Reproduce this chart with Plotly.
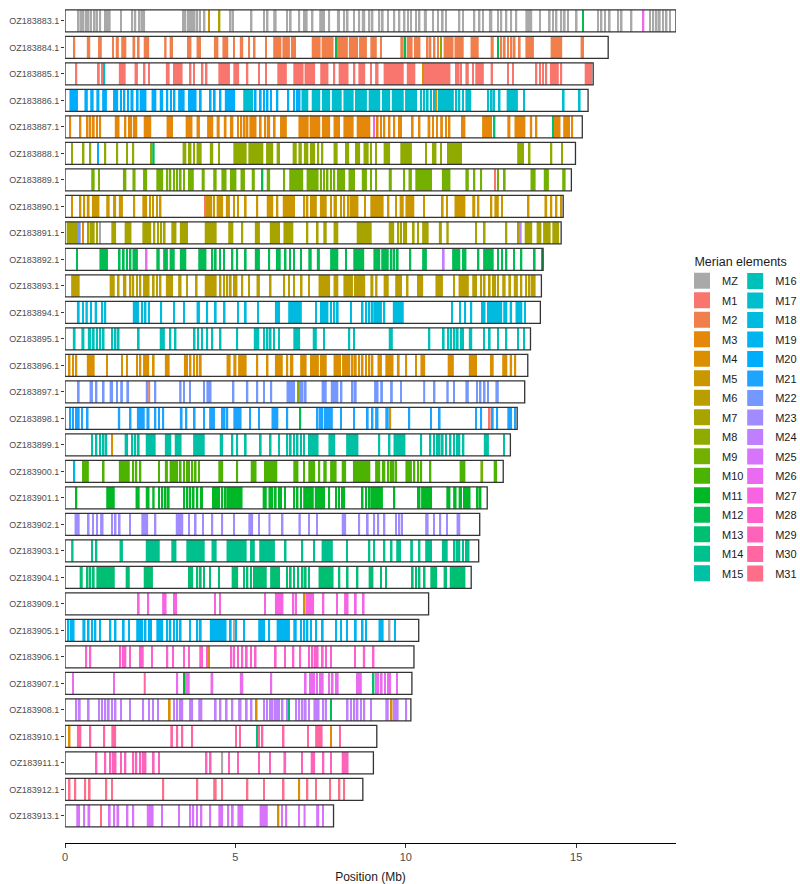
import math
import plotly.graph_objects as go

# ---------------- data ----------------
CHROMS = ["OZ183883.1", "OZ183884.1", "OZ183885.1", "OZ183886.1", "OZ183887.1",
          "OZ183888.1", "OZ183889.1", "OZ183890.1", "OZ183891.1", "OZ183892.1",
          "OZ183893.1", "OZ183894.1", "OZ183895.1", "OZ183896.1", "OZ183897.1",
          "OZ183898.1", "OZ183899.1", "OZ183900.1", "OZ183901.1", "OZ183902.1",
          "OZ183903.1", "OZ183904.1", "OZ183909.1", "OZ183905.1", "OZ183906.1",
          "OZ183907.1", "OZ183908.1", "OZ183910.1", "OZ183911.1", "OZ183912.1",
          "OZ183913.1"]
LENGTHS = [17.93, 15.94, 15.50, 15.35, 15.18, 14.98, 14.86, 14.62, 14.56, 14.03,
           13.98, 13.95, 13.66, 13.58, 13.49, 13.27, 13.07, 12.86, 12.39, 12.17,
           12.14, 11.92, 10.67, 10.38, 10.24, 10.18, 10.15, 9.15, 9.05, 8.74, 7.88]
MAIN = ["MZ", "M2", "M1", "M20", "M3", "M8", "M9", "M5", "M7", "M12",
        "M6", "M18", "M16", "M4", "M22", "M21", "M15", "M10", "M11", "M23",
        "M14", "M13", "M27", "M19", "M28", "M26", "M24", "M30", "M29", "M31", "M25"]
ELEMENTS = ["MZ"] + ["M%d" % i for i in range(1, 32)]

# segment notation: x -> thin line of main element; (a, b) -> block;
# (x, "Mk") -> thin line of other element; (a, b, "Mk") -> block of other element
SEG_883 = [0.38, 0.45, 0.52, 0.60, 0.67, 0.74, 0.85, 0.92, (1.01, 1.06), 1.16, 1.23, (1.29, 1.34),
           1.62, 1.95, 2.04, 2.17, 2.24, 2.30, 3.45, 3.51, 3.58, 3.64, 3.71, 3.78, 3.86, 3.94, 4.07,
           (4.20, "M5"), (4.51, "M7"), 4.84, 4.91, 5.45, 5.82, 5.92, (6.11, 6.21), 6.49, 6.60, 6.85,
           6.99, 7.07, 7.24, (7.46, 7.63), 7.73, (7.98, 8.07), 8.17, 8.27, 8.46, 8.61, (8.71, 8.81),
           8.91, 9.00, 9.20, (9.30, 9.35), 9.45, 9.64, 9.79, 9.94, 10.04, 10.13, 10.28, 10.38,
           (10.53, 10.62), 10.77, 10.92, 11.06, 11.16, 11.55, 11.65, 11.99, 12.14, 12.24,
           (12.44, 12.54), 12.68, 12.78, 12.93, 13.07, 13.22, (13.51, 13.71), 13.91, 14.20, 14.30,
           14.40, 14.54, 14.64, 14.74, 14.99, (15.18, "M12"), 15.62, 15.72, 15.82, 15.96, 16.21,
           16.31, 16.60, (16.95, "M26"), 17.14, 17.24, 17.34, 17.43, 17.53, 17.63, 17.73]
SEG_884 = [0.25, (0.64, 0.74), (0.97, 1.08), 1.38, (1.49, 1.58), (1.65, 1.80), (1.98, 2.06),
           (2.14, 2.19), (2.31, 2.47), (2.91, 2.98), (3.07, 3.17), (3.58, 3.71), (3.86, 3.99),
           (4.37, 4.50), (4.62, 4.79), 4.94, (5.13, 5.23), 5.38, 5.54, 5.87, (6.11, 6.35),
           (6.38, 6.60), (6.63, 6.78), (7.24, 7.50), (7.53, 7.88), (7.93, "M12"), (7.98, 8.30),
           (8.33, 8.60), (8.63, 8.86), (8.96, 9.15), 9.25, (9.84, 9.94), (9.96, "M12"),
           (10.03, 10.20), (10.24, 10.43), 10.62, 10.70, 10.82, 10.92, (11.01, "M8"),
           (11.11, 11.40), (11.43, 11.70), (11.90, 12.14), (12.49, 12.58), (12.68, "M12"), 12.78,
           12.88, 12.98, 13.08, 13.17, 13.32, (13.51, 13.76), (14.25, 14.59), (15.13, 15.23)]
SEG_885 = [0.31, (0.94, 1.02), 1.08, (1.13, "M17"), (1.58, 1.78), (2.04, 2.14), 2.31, 2.44,
           (2.96, 3.07), (3.17, 3.45), 3.66, (3.76, 3.81), 4.01, 4.13, (4.50, 4.84), (4.94, 5.11),
           (5.31, 5.38), 5.67, 5.87, (6.23, 6.51), (6.70, 7.00), (7.03, 7.34), (7.49, 7.73), 7.88,
           (8.03, 8.32), 8.47, (8.61, 8.81), 8.96, (9.10, 9.20), (9.35, 9.94), (10.03, 10.28),
           (10.48, "M4"), (10.52, 11.31), 11.46, 11.53, 11.60, (11.75, 11.85), 11.95,
           (12.04, 12.29), (12.49, 12.56), 12.98, 13.12, 13.81, 13.91, 14.00, 14.10,
           (14.23, 14.49), 14.54, (15.25, 15.47)]
SEG_886 = [(0.13, 0.38), (0.57, 0.67), (0.74, 0.84), (0.92, 1.01), (1.09, 1.23), (1.41, 1.56),
           1.62, 1.72, 1.82, (1.92, 2.01), 2.11, (2.19, 2.39), (2.54, 2.68), (2.78, 2.88), 2.98,
           3.09, 3.19, (3.32, 3.51), (3.61, 3.86), (3.96, 4.01), 4.25, 4.37, 4.54, (4.69, 4.99),
           (5.23, 5.52, "M17"), (5.57, 5.62), 5.72, 5.82, 5.92, 6.02, 6.21, 6.53, 6.70, 6.78, 6.86,
           (6.94, 7.14, "M17"), (7.24, 7.49, "M17"), (7.54, 7.78, "M17"), (7.83, 8.12, "M17"),
           (8.17, 8.47, "M17"), (8.51, 8.86, "M17"), (8.91, 9.25, "M17"), (9.30, 9.54, "M17"),
           (9.59, 9.94, "M17"), (9.98, 10.33, "M17"), (10.43, "M17"), (10.52, "M17"),
           (10.62, "M17"), (10.72, "M17"), (10.82, "M17"), (10.87, "M4"), (10.94, 11.41, "M17"),
           (11.46, "M17"), (11.55, "M17"), (11.65, "M17"), (11.75, 11.92, "M17"), (12.39, "M17"),
           (12.50, "M17"), (12.56, "M17"), (12.73, "M17"), (12.96, 13.29, "M17"), (13.45, "M17"),
           (14.61, "M17"), (15.08, "M17")]
SEG_887 = [0.13, 0.43, 0.64, 0.72, 0.82, 0.92, 1.01, (1.46, 1.60), 1.75, 1.85, 1.92, 2.00, 2.07,
           (2.31, 2.53), (2.98, 3.17), (3.54, 3.74), (3.86, 3.96), (4.17, 4.35), (4.45, 4.54),
           (4.66, 4.74), (4.84, 4.94), 5.05, 5.15, 5.25, 5.33, (5.41, 5.62), 5.72, 5.84,
           (5.92, 6.02), 6.13, (6.31, 6.51), (6.85, 7.15), (7.18, 7.49), (7.54, 7.78), (7.88, 8.07),
           (8.17, 8.47), (8.56, 8.96), (9.05, "M27"), 9.15, 9.25, 9.35, 9.50, 9.64, 9.79,
           (9.84, 9.89), (10.18, 10.23), 10.38, (10.64, 10.72), (10.77, 10.82), 10.89,
           (11.01, 11.09), 11.16, 11.26, (11.62, 11.75), (12.24, 12.53), (12.58, "M13"),
           (12.98, 13.07), (13.19, 13.51), (13.64, 13.71), (13.81, 13.86), (14.30, "M13"),
           (14.35, 14.54), (14.62, 14.82), 14.86]
SEG_888 = [0.18, 0.52, 0.72, (0.94, "M20"), 1.16, 1.51, 1.80, 1.98, (2.51, 2.56),
           (2.56, 2.63, "M12"), (3.45, 3.56), (3.61, 3.71), 3.76, (3.86, 4.01), (4.25, 4.35), 4.50,
           (4.94, 5.33), (5.38, 5.82), (5.90, 6.11), (6.21, 6.31), (6.68, 6.80), (6.85, 6.95),
           (7.01, 7.14), (7.19, 7.34), 7.41, 7.53, (7.88, 8.00), 8.22, 8.29, (8.51, 8.66),
           (8.76, 8.91), 8.96, 9.10, (9.35, 9.54), (9.84, 10.18), 10.57, (10.77, 10.90), 11.01,
           (11.21, 11.65), (13.27, 13.47), 13.61, 14.25, 14.56]
SEG_889 = [(0.77, 0.87), 0.97, (1.70, 1.80), (1.98, 2.07), (2.29, 2.41), (2.68, 2.88), 2.98, 3.07,
           3.17, 3.27, 3.37, 3.47, (3.61, 3.78), (4.01, 4.10), (4.35, 4.45), (4.59, 4.74),
           (4.84, 5.03), (5.15, 5.28), (5.48, 5.57), (5.77, "M12"), (5.92, 6.02), 6.41,
           (6.58, 6.99), (7.09, 7.44), 7.49, 7.58, 7.68, 7.78, 7.88, (7.98, 8.22), (8.32, 8.51),
           (8.71, 8.86), 8.96, 9.10, (9.50, 9.59), (9.94, 9.98), (10.08, 10.18), (10.28, 10.77),
           (11.06, 11.31), (11.75, 11.85), 11.99, 12.19, (12.60, "M1"), 12.68, 12.88,
           (13.66, 13.81), (14.05, 14.20), (14.59, 14.69)]
SEG_890 = [(0.18, "M4"), (0.41, 0.48), 0.54, (0.64, 0.72), (0.79, 1.01), (1.21, 1.31),
           (1.41, 1.50), (1.58, 1.70), 2.01, (2.27, 2.41), 2.47, 2.56, 2.68, 2.78, (4.10, "M1"),
           4.15, 4.20, 4.27, 4.35, (4.45, 4.64), (4.72, 4.84), 4.94, 5.05, 5.28, 5.62,
           (5.92, 6.11), 6.21, (6.39, 6.75), 7.00, 7.09, (7.19, 7.39), (7.48, 7.68), 7.78,
           (7.88, 7.98), 8.07, 8.17, 8.29, (8.35, 8.61), 8.78, (8.96, 9.35), 9.47, 9.69,
           (9.82, 9.94), (9.99, 10.25), 10.51, 11.06, 11.19, (11.43, 11.75), (11.95, 12.04), 12.11,
           12.49, (12.60, 12.73), 12.80, 13.58, (14.07, 14.15), 14.25, 14.40, 14.54]
SEG_891 = [(0.05, 0.38), (0.41, "M22"), (0.50, "M3"), 0.67, 0.75, 0.82, 0.92, (1.00, "MZ"),
           (1.36, 1.50), (1.75, 1.95), (2.27, 2.53), 2.60, 2.70, 2.80, 2.90, (3.12, 3.27),
           (3.37, 3.61), (4.10, 4.45), (4.79, 4.94), 5.18, (5.57, 5.72), (6.01, 6.31),
           (6.41, 6.70), 7.09, 7.39, (7.58, 7.68), (7.88, 8.02), (8.56, 9.00), (9.50, 9.66), 9.76,
           9.84, 9.92, 9.99, 10.21, 10.33, (10.48, 10.67), (10.97, 11.06), (11.19, 11.26), 12.04,
           12.29, 12.93, 13.27, (13.35, "M24"), (13.49, 13.71), (13.84, 13.98), (14.03, 14.25),
           (14.30, 14.50)]
SEG_892 = [0.33, (1.01, 1.26), 1.58, 1.70, 1.80, 1.90, (1.98, 2.14), (2.37, "M26"), (2.68, 2.78),
           (2.88, 3.02), (3.07, 3.22), (3.37, 3.56), (3.91, 4.15), 4.30, 4.40, 4.52, 4.64, 4.89,
           5.03, 5.28, (5.57, 5.72), 5.97, (6.19, 6.33), 6.45, 6.58, 6.70, 6.90, (7.14, 7.24),
           (7.39, 7.48), (7.78, 8.02), 8.22, (8.46, 8.78), (9.05, 9.25), (9.28, 9.50), 9.56, 9.64,
           9.74, 10.11, (10.48, 10.62), (11.09, "M24"), (11.36, 11.60), (11.65, 11.78), 12.11,
           (12.27, 12.58), 12.68, 12.80, 12.93, 13.15, 13.37, 13.76, 13.98]
SEG_893 = [(0.18, 0.43), (1.31, 1.46), 1.55, (1.70, 1.80), 1.90, 1.98, 2.09, 2.19, (2.29, 2.48),
           2.58, 2.68, 2.78, (2.96, 3.17), (3.32, 3.42), 3.56, 3.84, (4.10, 4.45), 4.54, 4.64,
           4.74, 4.84, 4.94, 5.01, 5.18, 5.38, (5.62, 5.72), 6.01, 6.41, 6.55, 6.70, 6.92, 7.14,
           (7.44, 7.78), (7.88, 8.02), (8.17, 8.45), (8.48, 8.81), (8.96, 9.05), (9.10, 9.17),
           (9.35, 9.50), (9.69, 9.89), (10.03, 10.08), (10.33, 10.51), (10.87, 11.09), 11.39,
           (11.55, 11.85), (11.95, 12.09), 12.19, 12.29, 12.44, 12.54, 12.60, 12.68,
           (12.83, 12.93), (13.01, 13.09), (13.17, 13.29), 13.37, 13.51, 13.61, 13.68, 13.76]
SEG_894 = [(0.35, 0.43), 0.50, (0.60, 0.67), 0.74, (0.87, 0.94), 1.06, (1.16, 1.21),
           (1.99, 2.17), 2.24, 2.34, 2.44, 2.80, 3.17, 3.47, (3.86, 3.96), 4.15, 4.40, 4.66, 5.05,
           5.28, 5.64, (6.16, 6.31), (6.55, 6.95), 7.34, (7.48, 7.73), 7.78, 7.88, 7.98, 8.37,
           8.71, 8.81, 8.91, 9.00, (9.05, 9.30), 9.35, (9.62, 9.94), 11.33, (11.58, 11.62), 11.72,
           11.90, 12.21, 12.29, 12.39, (12.44, 12.83), (12.86, 12.98), (13.05, 13.12),
           (13.22, 13.42), 13.47]
SEG_895 = [(0.23, 0.31), (0.48, 0.57), (0.67, 0.77), 0.82, 0.92, 1.01, 1.11, 1.36, 1.46, 1.55,
           2.14, (2.78, 2.93), 3.07, 3.22, 3.78, 3.88, 4.00, 4.15, 4.30, 4.54, 5.03, (5.54, 5.70),
           5.82, 5.92, 6.01, 6.11, 6.26, (6.70, 6.90), (7.27, 7.39), 7.58, 8.32, 8.46,
           (9.50, 9.62), 10.67, 11.09, 11.23, 11.31, 11.41, 11.50, 11.60, 11.65, (11.85, 11.95),
           12.27, 12.44, 12.68, 12.93, 13.27, 13.45]
SEG_896 = [0.11, 0.21, 0.31, (0.64, 0.87), 1.21, 1.65, 1.80, 2.09, 2.19, (2.29, 2.47), 2.58,
           (2.93, 3.07), (3.49, 3.61), 3.66, 3.76, 3.86, 3.96, (4.74, 4.86), (4.94, 5.03),
           (5.08, 5.33), 5.62, 5.92, (6.16, 6.39), 6.50, (6.60, 6.70), (6.90, 7.09), (7.19, 7.45),
           (7.48, 7.68), (7.88, 8.10), (8.13, 8.37), 8.42, 8.51, 8.61, 8.71, 8.81, 8.91, 9.00,
           (9.17, 9.30), (9.40, 9.64), (9.74, 9.82), 9.99, 10.28, (10.43, 10.57), (11.23, 11.41),
           (11.85, 12.09), (12.47, 12.58), (12.83, 12.98), (13.05, 13.12), 13.19]
SEG_897 = [0.38, (0.72, 0.82), 0.90, 1.11, (1.31, 1.41), 1.50, (1.62, 1.70), (1.80, 1.88),
           (2.37, 2.44), (2.44, 2.50, "M2"), 2.63, (3.35, 3.42), 3.47, 3.64, 4.05, (4.15, 4.30),
           4.92, (5.31, 5.38), 5.62, 5.82, 6.03, (6.50, 6.75), (6.82, "M8"), 6.88, 6.95, 7.04,
           (7.53, 7.68), (7.80, 8.02), 8.09, 8.42, 8.51, (9.07, 9.20), (9.25, 9.33), (9.54, 9.62),
           9.84, (10.51, 10.57), 10.82, (11.19, 11.26), 11.39, (11.75, 11.85), 12.07, 12.17, 12.29,
           12.39, (12.63, 12.73)]
SEG_898 = [0.13, 0.21, 0.31, 0.38, 0.48, 0.64, (1.55, 1.62), 1.90, (2.11, 2.34), (2.39, 2.48),
           2.63, 2.73, 2.86, (3.37, 3.45), 3.54, 3.78, 4.05, (4.23, 4.40), 4.59, 4.66, 4.74,
           (4.94, 5.18), 5.41, 5.67, (6.06, 6.26), 6.50, (6.88, "M12"), 7.39, 7.47, 7.53,
           (7.60, 7.86), 8.07, 8.46, 8.86, 9.00, (9.10, 9.20), (9.40, 9.50), (9.52, "M4"),
           (10.08, 10.13), 10.72, 10.97, 12.04, 12.19, (12.44, "M1"), 12.53, 12.66, (12.98, 13.12),
           13.19]
SEG_899 = [(0.77, 0.82), 0.90, 1.00, 1.11, 1.19, (1.36, "M4"), (1.75, 1.85), 1.95, 2.04, 2.14,
           (2.37, 2.66), (2.93, 3.12), (3.22, 3.42), (3.76, 4.10), (4.54, 4.64), 4.89, 5.03, 5.28,
           5.72, 6.01, 6.26, 6.50, 6.60, 6.70, 6.80, 6.90, 6.99, 7.14, (7.19, 7.44), (7.73, 7.93),
           (8.25, 8.61), 9.20, 9.50, (9.64, 9.99), 10.43, 10.70, 10.80, 10.90, 10.97, 11.06, 11.16,
           11.29, 11.39, 11.49, 11.55, (11.65, 11.72), (12.29, 12.44), 12.86]
SEG_900 = [(0.25, "M19"), (0.50, 0.70), 1.11, (1.58, 1.90), 1.98, 2.07, 2.19, 2.73, (2.93, 3.02),
           (3.07, 3.32), 3.37, 3.47, 3.56, 3.61, 3.71, 3.81, 3.91, (4.50, 4.64), 5.03, (5.45, 5.62),
           (5.84, 6.23), (6.70, 6.85), 6.99, (7.14, 7.34), 7.44, (7.58, 7.68), (7.78, 7.97),
           (8.12, 8.25), (8.45, 8.96), (9.10, 9.25), (9.30, 9.40), 9.47, 9.54, 9.62, 9.69,
           (9.99, 10.18), 10.23, 10.33, 10.43, 10.70, (11.58, 11.75), (12.19, 12.27, "M9"),
           (12.58, 12.68)]
SEG_901 = [0.31, (1.21, 1.46), (2.07, 2.19), (2.37, 2.48), (2.56, 2.63), 2.73, 2.83, 2.93, 3.02,
           3.47, 3.57, 3.65, 3.75, 3.86, (3.96, 4.05), 4.33, 4.40, 4.45, 4.50, 4.59, 4.69,
           (4.74, 5.21), (5.80, 5.92), (5.97, 6.11), 6.16, 6.26, 6.31, 6.43, 6.70, 6.80, 6.90,
           (6.99, 7.30), (7.33, 7.63), 7.73, 7.93, 8.02, 8.12, 8.17, 8.71, 8.81, 8.91,
           (8.96, 9.33), (9.64, 9.69), (10.33, 10.43), (10.45, 10.77), (11.19, 11.31),
           (11.39, 11.49), (11.55, 11.65), (11.68, 11.90), 12.09, 12.17]
SEG_902 = [(0.28, 0.43), (0.67, 0.72), 0.80, 0.92, (1.03, 1.13), 1.36, 1.46, 1.58, 1.88,
           (2.24, 2.44), 2.63, (3.25, 3.47), 3.61, 3.81, 4.03, 4.30, (4.59, 4.64), 4.94,
           (5.38, 5.52), 5.67, (5.97, 6.03), 6.36, (6.85, 6.92), 7.14, 7.37, (8.12, 8.25), 8.61,
           8.86, 9.05, 9.17, 9.35, 9.69, 9.79, 9.86, (10.57, 10.67), 10.80, 10.99, 11.19,
           (11.49, 11.60)]
SEG_903 = [(0.18, 0.25), 0.77, 0.90, (1.60, 1.70), (2.37, 2.78), (3.12, 3.27), (3.56, 4.10),
           (4.30, 4.45), (4.74, 5.33), (5.43, 5.57), (5.70, 6.16), 6.45, (6.95, 6.99), 7.29,
           (7.53, 7.86), 8.25, 8.91, 9.05, (9.35, 9.40), 9.56, (9.72, 9.86), (10.13, 10.21), 10.38,
           (10.57, 10.77), (11.06, 11.23), 11.41, 11.49, 11.55, 11.65, 11.75, 11.82]
SEG_904 = [(0.43, 0.52), 0.64, 0.72, 0.82, (0.92, 1.46), (1.78, 1.90), (2.31, 2.58),
           (3.61, 3.76), 3.86, 3.96, 4.05, 4.23, 4.50, (4.89, 5.08), 5.23, 5.33, 5.43, 5.52,
           (5.57, 5.92), (6.02, 6.31), 6.49, 6.60, 6.70, 6.82, 6.95, 7.04, 7.14, (7.44, 7.88),
           8.03, 8.27, 8.56, (8.91, 9.05), 9.25, 9.40, 10.18, 10.28, 10.38, 10.53, (10.72, 10.92),
           (11.11, 11.21), (11.29, 11.75)]
SEG_909 = [2.14, 2.42, (2.85, 2.98), (3.17, 3.29), 4.38, 4.52, 5.85, (6.16, 6.41), 6.68, 6.75,
           (7.01, "M4"), (7.07, 7.31), 7.56, 7.96, (8.19, 8.32), 8.51, 8.74]
SEG_905 = [0.08, 0.15, 0.23, (0.51, 0.60), 0.67, 0.77, 0.87, 1.00, 1.31, 1.46, 1.70, 1.85,
           (2.09, 2.29), 2.34, 2.44, 2.50, (2.68, 2.88), 2.98, 3.07, 3.17, 3.27, 3.37, 3.64, 3.86,
           3.96, (4.25, 4.74), 4.84, (4.94, "MZ"), 4.99, 5.23, (5.67, 5.87), 5.97, (6.21, 6.60),
           (6.70, 6.80), 6.90, 7.00, 7.09, 7.19, 7.34, 7.54, 7.93, 8.07, 8.25, 8.51, 8.71, 8.81,
           (9.20, 9.35), (9.50, "MZ"), 9.66]
SEG_906 = [0.60, 0.72, 1.60, 1.68, 1.75, 1.88, (2.17, 2.31), 2.53, 2.98, 3.15, 3.47, 3.61,
           (3.94, 4.05), 4.15, (4.20, "M4"), 4.86, 4.94, 5.05, 5.18, 5.31, 5.43, 5.57, 6.16, 6.43,
           6.68, 6.88, 7.14, 7.24, 7.31, 7.39, 7.54, 7.63, 7.78, 8.49, (8.74, 8.81), 9.03]
SEG_907 = [0.21, 1.41, (2.31, 2.37, "M30"), 3.27, (3.49, "M11"), (3.54, 3.66), (4.27, 4.35),
           (5.13, 5.23), 6.03, 7.04, 7.17, 7.24, 7.29, 7.37, 7.47, 7.54, 7.73, 7.83, 7.93, 7.98,
           (8.54, 8.71), (9.03, "M13"), 9.10, 9.17, 9.27, 9.37, 9.47, 9.52, 9.72]
SEG_908 = [0.31, 0.41, 0.67, 0.97, 1.06, 1.16, 1.26, 1.36, 1.46, 1.62, 1.88, 2.27, 2.44, 2.56,
           2.70, (3.05, "M4"), 3.17, 3.27, 3.35, 3.42, (3.64, 3.76), (3.91, 4.03), 4.40, 4.54,
           4.72, 4.89, (5.08, 5.18), 5.31, 5.45, (5.60, "M4"), 5.82, 5.90, 6.00, 6.07, 6.14, 6.21,
           6.26, 6.36, 6.49, (6.55, "M13"), 6.75, 6.85, 6.95, 7.04, 7.14, (7.29, 7.47), 7.56,
           7.63, (7.78, "M12"), 8.27, 8.37, 8.47, 8.56, 8.66, 8.76, 8.96, (9.40, 9.50),
           (9.56, "M4"), (9.62, 9.79), 9.99]
SEG_910 = [(0.11, "M4"), (0.35, 0.48), 0.72, 1.13, (1.36, 1.50), (3.09, 3.17), 3.27, 3.42, 3.71,
           4.99, 5.11, (5.62, "M13"), 5.67, 5.77, 6.39, 7.11, (7.34, 7.56), (7.78, "M3"), 8.05]
SEG_911 = [0.90, 1.16, 1.31, 1.39, 1.46, 1.62, 1.75, 1.98, 2.07, 2.19, 2.27, 2.34, 2.58, 2.73,
           4.13, 4.25, (4.59, "MZ"), 4.79, 5.05, 5.67, 5.99, (6.41, 6.49), 6.93, (7.21, 7.34),
           7.56, 7.78, (8.12, 8.32)]
SEG_912 = [0.11, 0.28, 0.57, 0.70, 1.19, 1.36, 2.86, 3.86, (4.35, 4.45), 4.59, 5.33, 5.82, 6.39,
           (6.85, "M4"), 7.09, 7.34, 7.76, 8.03, 8.17]
SEG_913 = [(0.33, 0.44), 0.54, (0.66, 0.74), (1.03, "M31"), 1.29, 1.42, (1.51, 1.59), 1.81, 1.98,
           (2.40, 2.60), 2.82, 3.32, 3.65, 3.74, 3.85, 3.98, 4.24, (4.50, 4.64), 4.77, 4.90,
           (5.06, 5.23), (5.71, 5.95), (6.24, "M4"), 6.34, 6.47, 6.84, (7.00, 7.06), (7.37, 7.46),
           7.55]

SEGMENTS = [SEG_883, SEG_884, SEG_885, SEG_886, SEG_887, SEG_888, SEG_889, SEG_890, SEG_891,
            SEG_892, SEG_893, SEG_894, SEG_895, SEG_896, SEG_897, SEG_898, SEG_899, SEG_900,
            SEG_901, SEG_902, SEG_903, SEG_904, SEG_909, SEG_905, SEG_906, SEG_907, SEG_908,
            SEG_910, SEG_911, SEG_912, SEG_913]

X_TICKS = [0, 5, 10, 15]

# ---------------- styles ----------------
LINE_W = 0.05          # width (Mb) drawn for a single thin segment
BAR_H = 0.83           # height of chromosome box in category units
FONT = "Liberation Sans, Arial, Helvetica, sans-serif"


def hcl_hex(h, c=100.0, l=65.0):
    xn, yn, zn = 95.047, 100.0, 108.883
    un = 4 * xn / (xn + 15 * yn + 3 * zn)
    vn = 9 * yn / (xn + 15 * yn + 3 * zn)
    hr = math.radians(h)
    U, V = c * math.cos(hr), c * math.sin(hr)
    Y = yn * ((l + 16) / 116) ** 3 if l > 8 else yn * l / 903.3
    u = U / (13 * l) + un
    v = V / (13 * l) + vn
    X = 9.0 * Y * u / (4 * v)
    Z = -X / 3 - 5 * Y + 3 * Y / v
    X, Y, Z = X / 100, Y / 100, Z / 100
    rgb = [3.240479 * X - 1.537150 * Y - 0.498535 * Z,
           -0.969256 * X + 1.875992 * Y + 0.041556 * Z,
           0.055648 * X - 0.204043 * Y + 1.057311 * Z]
    out = []
    for t in rgb:
        t = 12.92 * t if t <= 0.0031308 else 1.055 * t ** (1 / 2.4) - 0.055
        out.append(int(round(min(max(t, 0), 1) * 255)))
    return "#%02X%02X%02X" % tuple(out)


n = 31
COLORS = {"MZ": "#A9A9A9"}
for i in range(n):
    COLORS["M%d" % (i + 1)] = hcl_hex(15 + i * (360.0 / n))

# ---------------- build segments ----------------
per_elem = {e: {"y": [], "base": [], "x": []} for e in ELEMENTS}
for chrom, main, segs in zip(CHROMS, MAIN, SEGMENTS):
    for s in segs:
        if isinstance(s, (int, float)):
            a, b, e = s, s + LINE_W, main
        elif len(s) == 2 and isinstance(s[1], str):
            a, b, e = s[0], s[0] + LINE_W, s[1]
        elif len(s) == 2:
            a, b, e = s[0], s[1], main
        else:
            a, b, e = s
        per_elem[e]["y"].append(chrom)
        per_elem[e]["base"].append(a)
        per_elem[e]["x"].append(b - a)

fig = go.Figure()
for e in ELEMENTS:
    d = per_elem[e]
    if d["y"]:
        fig.add_trace(go.Bar(y=d["y"], x=d["x"], base=d["base"], orientation="h",
                             width=BAR_H, marker=dict(color=COLORS[e], line=dict(width=0)),
                             showlegend=False, legendgroup=e, hoverinfo="skip"))

# chromosome outlines
fig.add_trace(go.Bar(y=CHROMS, x=LENGTHS, base=[0] * len(CHROMS), orientation="h", width=BAR_H,
                     marker=dict(color="rgba(0,0,0,0)", line=dict(color="#333333", width=1.3)),
                     showlegend=False, hoverinfo="skip"))

# legend entries
for i, e in enumerate(ELEMENTS):
    fig.add_trace(go.Scatter(x=[None], y=[None], mode="markers", name=e, legendgroup=e,
                             marker=dict(symbol="square", size=18, color=COLORS[e]),
                             legend="legend" if i < 16 else "legend2", showlegend=True))

fig.update_layout(
    width=800, height=884,
    margin=dict(l=65, r=124, t=5, b=41),
    paper_bgcolor="white", plot_bgcolor="white",
    barmode="overlay",
    font=dict(family=FONT, color="#1A1A1A"),
    legend=dict(title=dict(text="&nbsp;&nbsp;&nbsp;Merian elements",
                           font=dict(size=12.5, color="#1A1A1A")),
                xref="container", yref="container",
                x=0.8525, xanchor="left", y=0.7172, yanchor="top", tracegroupgap=0.5,
                font=dict(size=11, color="#1A1A1A"), itemsizing="trace", bgcolor="rgba(0,0,0,0)"),
    legend2=dict(xref="container", yref="container",
                 x=0.919, xanchor="left", y=0.6985, yanchor="top", tracegroupgap=0.5,
                 font=dict(size=11, color="#1A1A1A"), itemsizing="trace", bgcolor="rgba(0,0,0,0)"),
    xaxis=dict(range=[0, max(LENGTHS)], tickvals=X_TICKS, ticks="outside", ticklen=4,
               tickcolor="#333333", tickfont=dict(size=11, color="#4D4D4D"), showgrid=False,
               zeroline=False, showline=True, linecolor="black", linewidth=1.1, automargin=False,
               title=dict(text="Position (Mb)", font=dict(size=12, color="#1A1A1A"))),
    yaxis=dict(type="category", categoryorder="array", categoryarray=CHROMS,
               range=[31.02, -0.6], ticks="outside", ticklen=3, tickcolor="#333333",
               tickfont=dict(size=9, color="#4D4D4D"), showgrid=False, zeroline=False,
               showline=False, automargin=False),
)

fig.write_html("out.html")
